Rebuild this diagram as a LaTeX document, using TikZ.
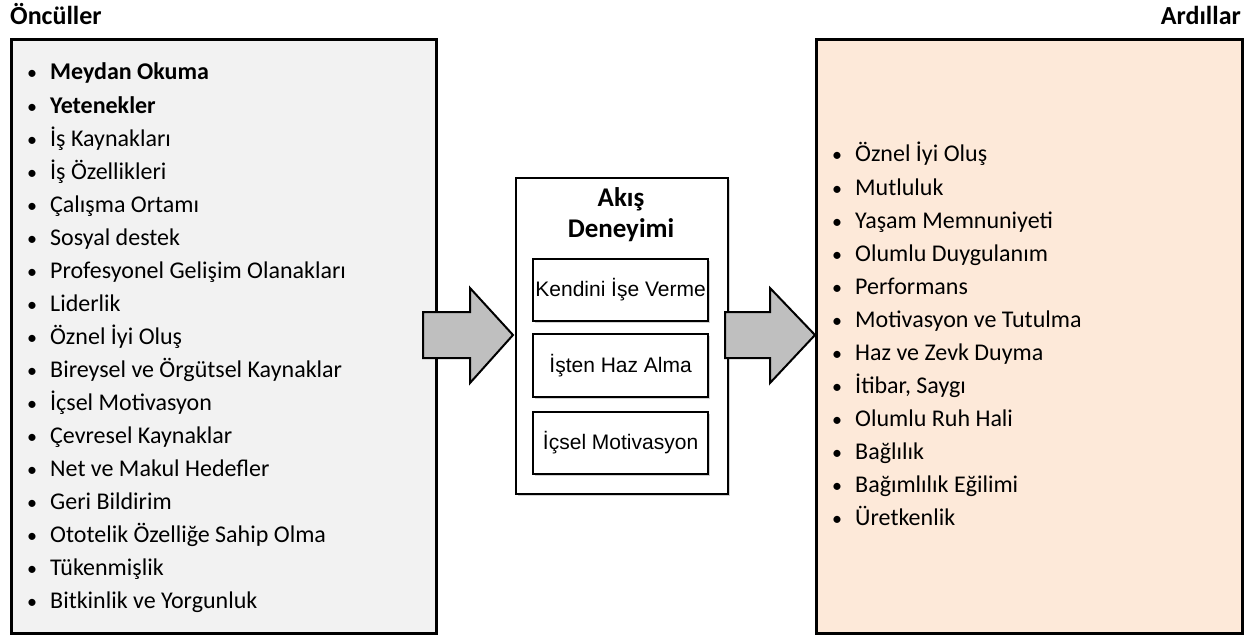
\documentclass[tikz,border=0pt]{standalone}
\usepackage{fontspec}
\setmainfont{Carlito}
\newfontfamily\arialf{Liberation Sans}
\usetikzlibrary{shadows}
\definecolor{leftfill}{HTML}{F2F2F2}
\definecolor{rightfill}{HTML}{FDE9D9}
\definecolor{arrowfill}{HTML}{BFBFBF}
\tikzset{
  bigbox/.style={draw=black, line width=2.6pt, anchor=north west, inner sep=0pt,
    drop shadow={shadow xshift=2pt, shadow yshift=-2pt, opacity=0.35}},
  smallbox/.style={draw=black, line width=2.2pt, fill=white, anchor=north west, inner sep=0pt,
    drop shadow={shadow xshift=2pt, shadow yshift=-2pt, opacity=0.35}},
  item/.style={anchor=base west, inner sep=0pt, font=\fontsize{24}{28}\selectfont},
  bul/.style={anchor=base west, inner sep=0pt, font=\fontsize{20}{24}\selectfont},
  head/.style={inner sep=0pt, font=\fontsize{26}{30}\selectfont\bfseries},
  title/.style={inner sep=0pt, anchor=base, font=\fontsize{27}{32}\selectfont\bfseries},
  inner/.style={inner sep=0pt, font=\arialf\fontsize{21}{25}\selectfont},
  fatarrow/.style={draw=black, line width=2pt, fill=arrowfill, line join=miter}
}
\begin{document}
\begin{tikzpicture}[x=1pt,y=-1pt]
\useasboundingbox (0,0) rectangle (1252,636);
% headings
\node[head, anchor=base west] (hl) at (10,25) {Öncüller};
\node[head, anchor=base east] (hr) at (1241,25) {Ardıllar};
% big boxes
\node[bigbox, fill=leftfill, minimum width=425pt, minimum height=594pt] (L) at (10,38) {};
\node[bigbox, fill=rightfill, minimum width=426pt, minimum height=594pt] (R) at (815,38) {};
\node[smallbox, minimum width=212pt, minimum height=316pt] (M) at (515,177) {};
% arrows
\draw[fatarrow] (423,312) -- (470,312) -- (470,288) -- (513,335) -- (470,383) -- (470,358) -- (423,358) -- cycle;
\draw[fatarrow] (725,312) -- (770,312) -- (770,288) -- (815,335) -- (770,383) -- (770,358) -- (725,358) -- cycle;
% middle
\node[title] (mt1) at (621,207) {Akış};
\node[title] (mt2) at (621,238) {Deneyimi};
\node[smallbox, minimum width=175pt, minimum height=62pt] (b1) at (532,258) {};
\node[smallbox, minimum width=175pt, minimum height=63pt] (b2) at (532,333) {};
\node[smallbox, minimum width=175pt, minimum height=62pt] (b3) at (532,411) {};
\node[inner] (t1) at (b1.center) {Kendini İşe Verme};
\node[inner] (t2) at (b2.center) {İşten Haz Alma};
\node[inner] (t3) at (b3.center) {İçsel Motivasyon};
% left list
\foreach \t [count=\i] in {{\textbf{Meydan Okuma}},{\textbf{Yetenekler}},{İş Kaynakları},{İş Özellikleri},{Çalışma Ortamı},{Sosyal destek},{Profesyonel Gelişim Olanakları},{Liderlik},{Öznel İyi Oluş},{Bireysel ve Örgütsel Kaynaklar},{İçsel Motivasyon},{Çevresel Kaynaklar},{Net ve Makul Hedefler},{Geri Bildirim},{Ototelik Özelliğe Sahip Olma},{Tükenmişlik},{Bitkinlik ve Yorgunluk}}{
  \node[bul] (lb\i) at (27,{80+(\i-1)*33.06}) {•};
  \node[item] (li\i) at (50,{80+(\i-1)*33.06}) {\t};
}
% right list
\foreach \t [count=\i] in {{Öznel İyi Oluş},{Mutluluk},{Yaşam Memnuniyeti},{Olumlu Duygulanım},{Performans},{Motivasyon ve Tutulma},{Haz ve Zevk Duyma},{İtibar, Saygı},{Olumlu Ruh Hali},{Bağlılık},{Bağımlılık Eğilimi},{Üretkenlik}}{
  \node[bul] (rb\i) at (832,{162+(\i-1)*33.06}) {•};
  \node[item] (ri\i) at (855,{162+(\i-1)*33.06}) {\t};
}
\end{tikzpicture}
\end{document}
